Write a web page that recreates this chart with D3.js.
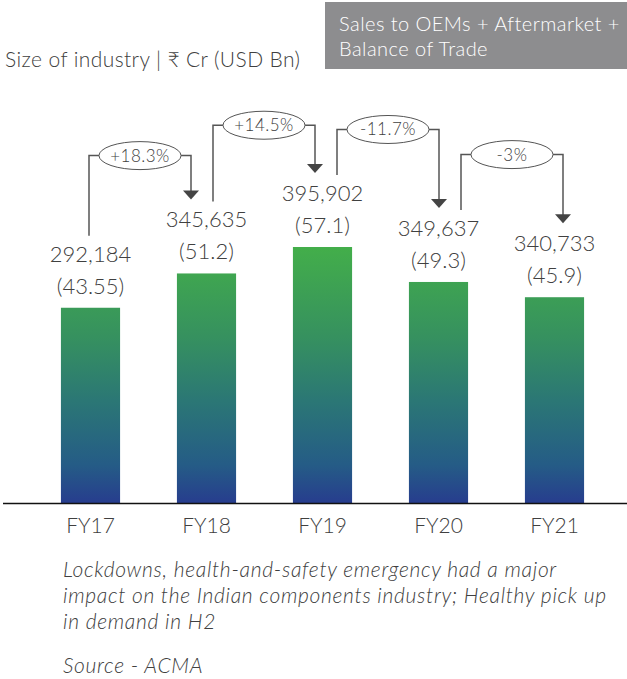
<!DOCTYPE html>
<html>
<head>
<meta charset="utf-8">
<script src="https://cdn.jsdelivr.net/npm/d3@7"></script>
<style>
  body { margin: 0; background: #fff; }
  svg { display: block; }
</style>
</head>
<body>
<main></main>
<script>
const years = ['FY17', 'FY18', 'FY19', 'FY20', 'FY21'];
const inrCr = [292184, 345635, 395902, 349637, 340733];
const usdBn = [43.55, 51.2, 57.1, 49.3, 45.9];
const changes = ['+18.3%', '+14.5%', '-11.7%', '-3%'];
const noteLines = [
  'Lockdowns, health-and-safety emergency had a major',
  'impact on the Indian components industry; Healthy pick up',
  'in demand in H2'
];

const width = 627;
const height = 679;
const baseY = 503;
const font = 'Lato, "Noto Sans", "DejaVu Sans", sans-serif';
const grey = '#404040';

const data = years.map((year, i) => ({ year, inr: inrCr[i], usd: usdBn[i] }));

const svg = d3.select('main')
  .append('svg')
  .attr('width', width)
  .attr('height', height)
  .style('font-family', font)
  .style('font-weight', 300)

const x = d3.scaleBand()
  .domain(years)
  .range([32.5, 612.5])
  .paddingInner(0.49)
  .paddingOuter(0.245)

const y = d3.scaleLinear()
  .domain([0, d3.max(usdBn)])
  .range([baseY, 247])

// shared gradient over the whole plot height
const grad = svg.append('defs')
  .append('linearGradient')
  .attr('id', 'barGrad')
  .attr('gradientUnits', 'userSpaceOnUse')
  .attr('x1', 0).attr('x2', 0)
  .attr('y1', y(d3.max(usdBn)))
  .attr('y2', y(0))

;[['0%', '#43ae4a'], ['35%', '#36915f'], ['60%', '#2b7775'], ['85%', '#255c86'], ['100%', '#273d8e']]
  .forEach(([o, c]) => grad.append('stop').attr('offset', o).attr('stop-color', c))

// Title
svg.append('text')
  .attr('x', 5)
  .attr('y', 67)
  .style('font-size', '21px')
  .style('letter-spacing', '0.4px')
  .style('fill', grey)
  .text('Size of industry | ₹ Cr (USD Bn)')

// Grey box
svg.append('rect')
  .attr('x', 325)
  .attr('y', 2)
  .attr('width', width - 325)
  .attr('height', 67)
  .style('fill', '#8d8d8f')

svg.append('text')
  .attr('x', 339)
  .attr('y', 31)
  .style('font-size', '20px')
  .style('letter-spacing', '0.45px')
  .style('fill', '#fff')
  .selectAll('tspan')
  .data(['Sales to OEMs + Aftermarket +', 'Balance of Trade'])
  .enter()
  .append('tspan')
  .attr('x', 339)
  .attr('dy', (d, i) => i ? 25 : 0)
  .text(d => d)

// Bars
svg.append('g')
  .selectAll('rect')
  .data(data)
  .enter()
  .append('rect')
  .attr('x', d => x(d.year))
  .attr('y', d => y(d.usd))
  .attr('width', x.bandwidth())
  .attr('height', d => baseY - y(d.usd))
  .style('fill', 'url(#barGrad)')

// Value labels
const labels = svg.append('g')
  .selectAll('g')
  .data(data)
  .enter()
  .append('g')
  .attr('transform', d => `translate(${x(d.year) + x.bandwidth() / 2},${y(d.usd)})`)
  .style('font-size', '22px')
  .style('fill', grey)
  .attr('text-anchor', 'middle')

labels.append('text')
  .attr('y', -46)
  .text(d => d3.format(',')(d.inr))

labels.append('text')
  .attr('y', -14)
  .text(d => `(${d.usd})`)

// Axis
svg.append('g')
  .attr('transform', `translate(0,${baseY})`)
  .call(d3.axisBottom(x).tickSize(0).tickPadding(15))
  .call(g => g.select('.domain').remove())
  .selectAll('text')
  .style('font-family', font)
  .style('font-weight', 300)
  .style('font-size', '21px')
  .style('fill', grey)

svg.append('line')
  .attr('x1', 3)
  .attr('x2', width)
  .attr('y1', baseY + 0.5)
  .attr('y2', baseY + 0.5)
  .style('stroke', '#111')
  .style('stroke-width', 1.6)

// Change annotations
const pairX = d3.scalePoint()
  .domain(d3.range(changes.length))
  .range([140, 512])

const rx = 41;
const ry = 14;
const lineColor = '#555';

changes.forEach((c, i) => {
  const from = data[i];
  const to = data[i + 1];
  const cx = pairX(i);
  const cy = (y(from.usd) + y(to.usd)) / 2 - 135;
  const lx = cx - rx - 10;
  const rxPos = cx + rx + 10;
  const tip = y(to.usd) - 74;

  const g = svg.append('g')

  g.append('path')
    .attr('d', `M${lx},${y(from.usd) - 72}V${cy}H${cx - rx}`)
    .style('fill', 'none')
    .style('stroke', lineColor)
    .style('stroke-width', 1.5)

  g.append('path')
    .attr('d', `M${cx + rx},${cy}H${rxPos}V${tip - 8}`)
    .style('fill', 'none')
    .style('stroke', lineColor)
    .style('stroke-width', 1.5)

  g.append('path')
    .attr('d', `M${rxPos - 8},${tip - 9}L${rxPos + 8},${tip - 9}L${rxPos},${tip}Z`)
    .style('fill', '#444')

  g.append('ellipse')
    .attr('cx', cx)
    .attr('cy', cy)
    .attr('rx', rx)
    .attr('ry', ry)
    .style('fill', '#fff')
    .style('stroke', lineColor)
    .style('stroke-width', 1)

  g.append('text')
    .attr('x', cx)
    .attr('y', cy + 6)
    .attr('text-anchor', 'middle')
    .style('font-size', '17px')
    .style('letter-spacing', '0.5px')
    .style('fill', grey)
    .text(c)
})

// Footnote
svg.append('text')
  .attr('y', 577)
  .style('font-size', '21px')
  .style('letter-spacing', '0.7px')
  .style('font-style', 'italic')
  .style('fill', grey)
  .selectAll('tspan')
  .data(noteLines)
  .enter()
  .append('tspan')
  .attr('x', 63)
  .attr('dy', (d, i) => i ? 26 : 0)
  .text(d => d)

svg.append('text')
  .attr('x', 63)
  .attr('y', 673)
  .style('font-size', '21px')
  .style('letter-spacing', '0.7px')
  .style('font-style', 'italic')
  .style('fill', grey)
  .text('Source - ACMA')
</script>
</body>
</html>
